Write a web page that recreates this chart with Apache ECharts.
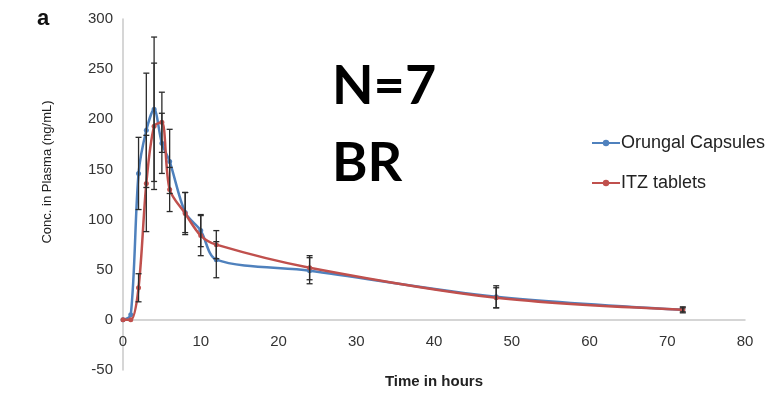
<!DOCTYPE html>
<html>
<head>
<meta charset="utf-8">
<script src="https://cdn.jsdelivr.net/npm/echarts@6/dist/echarts.min.js"></script>
<style>html,body{margin:0;padding:0;background:#fff}#c{width:770px;height:394px}</style>
</head>
<body>
<div id="c"></div>
<script>
const times = [0, 1, 2, 3, 4, 5, 6, 8, 10, 12, 24, 48, 72];
const orungalMean = [0, 5, 146, 189, 210, 176, 158, 107, 89, 60, 49, 23, 10];
const orungalErr  = [0, 0, 36, 57, 72, 30, 32, 20, 16, 18, 13, 11, 2];
const itzMean = [0, 0, 32, 136, 193, 197, 130, 106, 84, 75, 52, 22, 10];
const itzErr  = [0, 0, 14, 48, 63, 30, 22, 21, 20, 14, 12, 10, 3];
const xTicks = [0, 10, 20, 30, 40, 50, 60, 70, 80];
const yTicks = [-50, 0, 50, 100, 150, 200, 250, 300];
const seriesNames = ['Orungal Capsules', 'ITZ tablets'];
const colors = ['#4F81BD', '#C0504D'];

const pts = (m) => times.map((t, i) => [t, m[i]]);
const errs = (m, e) => times.map((t, i) => [t, m[i] - e[i], m[i] + e[i]]).filter((d, i) => e[i] > 0);

function errRender(params, api) {
  const x = api.value(0), lo = api.value(1), hi = api.value(2);
  const a = api.coord([x, hi]), b = api.coord([x, lo]);
  const w = 3;
  const st = {stroke: '#2b2b2b', lineWidth: 1.3};
  return {type: 'group', children: [
    {type: 'line', shape: {x1: a[0], y1: a[1], x2: b[0], y2: b[1]}, style: st},
    {type: 'line', shape: {x1: a[0] - w, y1: a[1], x2: a[0] + w, y2: a[1]}, style: st},
    {type: 'line', shape: {x1: b[0] - w, y1: b[1], x2: b[0] + w, y2: b[1]}, style: st}
  ]};
}

const chart = echarts.init(document.getElementById('c'));
const font = 'Liberation Sans, Arial, sans-serif';
chart.setOption({
  animation: false,
  color: colors,
  grid: {left: 123, right: 25, top: 19, bottom: 24, containLabel: false, outerBoundsMode: 'none'},
  xAxis: {
    type: 'value', min: xTicks[0], max: xTicks[xTicks.length - 1], interval: 10,
    offset: -50,
    axisLine: {onZero: false, lineStyle: {color: '#c8c8c8', width: 1.5}},
    axisTick: {show: false}, splitLine: {show: false},
    axisLabel: {color: '#333', fontSize: 15, fontFamily: font, margin: 14},
    name: 'Time in hours', nameLocation: 'middle', nameGap: 54,
    nameTextStyle: {color: '#222', fontSize: 15, fontWeight: 'bold', fontFamily: font}
  },
  yAxis: {
    type: 'value', min: yTicks[0], max: yTicks[yTicks.length - 1], interval: 50,
    axisLine: {show: true, onZero: false, lineStyle: {color: '#c8c8c8', width: 1.5}},
    axisTick: {show: false}, splitLine: {show: false},
    axisLabel: {color: '#333', fontSize: 15, fontFamily: font, margin: 10}
  },
  legend: {
    orient: 'vertical', left: 586, top: 129, itemGap: 22, itemWidth: 28, itemHeight: 8,
    data: seriesNames,
    textStyle: {color: '#222', fontSize: 18, fontFamily: font, padding: [0, 0, 0, -4]}
  },
  graphic: [
    {type: 'text', left: 37, top: 8, style: {text: 'a', font: 'bold 22px "Liberation Sans", Arial', fill: '#111'}},
    {type: 'text', x: 47, y: 172, rotation: Math.PI / 2,
     style: {text: 'Conc. in Plasma (ng/mL)', font: '13px "Liberation Sans", Arial', fill: '#222', align: 'center', verticalAlign: 'middle'}},
    {type: 'text', left: 332, top: 60, style: {text: 'N=7', font: 'bold 54px Lato, "Open Sans", sans-serif', fill: '#000'}},
    {type: 'text', left: 332, top: 137, style: {text: 'BR', font: 'bold 54px Lato, "Open Sans", sans-serif', fill: '#000'}}
  ],
  series: [
    {name: seriesNames[0], type: 'line', data: pts(orungalMean), smooth: 0.3,
     symbol: 'circle', symbolSize: 5, lineStyle: {width: 2.5, color: colors[0]}, itemStyle: {color: colors[0]}, z: 3},
    {name: seriesNames[1], type: 'line', data: pts(itzMean), smooth: 0.3,
     symbol: 'circle', symbolSize: 5, lineStyle: {width: 2.5, color: colors[1]}, itemStyle: {color: colors[1]}, z: 4},
    {type: 'custom', renderItem: errRender, data: errs(orungalMean, orungalErr), z: 5, encode: {x: 0, y: [1, 2]}},
    {type: 'custom', renderItem: errRender, data: errs(itzMean, itzErr), z: 5, encode: {x: 0, y: [1, 2]}}
  ]
});
</script>
</body>
</html>
